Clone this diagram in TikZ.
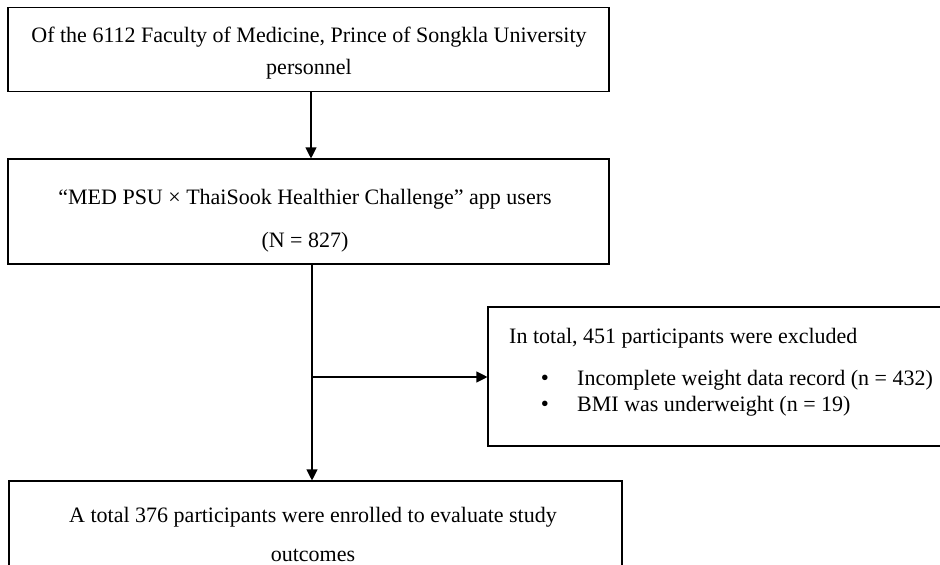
\documentclass[tikz,border=0pt]{standalone}
\usepackage{fontspec}
\setmainfont{Liberation Serif}
\usetikzlibrary{arrows.meta}
\begin{document}
\begin{tikzpicture}[x=1pt,y=-1pt,
  box/.style={draw, line width=1.1pt, rectangle, inner sep=0pt},
  txt/.style={font=\fontsize{22}{26}\selectfont, inner sep=0pt, anchor=base},
  ltxt/.style={font=\fontsize{22}{26}\selectfont, inner sep=0pt, anchor=base west},
  bul/.style={font=\fontsize{23}{26}\selectfont, inner sep=0pt, anchor=base},
  arr/.style={line width=1.1pt, -{Triangle[length=11pt,width=11pt]}}]
\useasboundingbox (0,0) rectangle (940,565);
\clip (0,0) rectangle (940,565);
% boxes
\node[box, minimum width=601pt, minimum height=84pt] (b1) at (308.5,49.5) {};
\node[box, minimum width=601pt, minimum height=105pt] (b2) at (308.5,211.5) {};
\node[box, minimum width=462pt, minimum height=139pt] (b4) at (719,376.5) {};
\node[box, minimum width=613pt, minimum height=100pt] (b3) at (315.5,531) {};
% texts
\node[txt] (t1a) at (309,42) {Of the 6112 Faculty of Medicine, Prince of Songkla University};
\node[txt] (t1b) at (309,74) {personnel};
\node[txt] (t2a) at (305,204) {“MED PSU × ThaiSook Healthier Challenge” app users};
\node[txt] (t2b) at (305,247) {(N = 827)};
\node[ltxt] (t4a) at (509,343) {In total, 451 participants were excluded};
\node[bul] (t4b) at (545,385) {\textbullet};
\node[ltxt] (t4c) at (577,385) {Incomplete weight data record (n = 432)};
\node[bul] (t4d) at (545,411) {\textbullet};
\node[ltxt] (t4e) at (577,411) {BMI was underweight (n = 19)};
\node[txt] (t3a) at (313,522) {A total 376 participants were enrolled to evaluate study};
\node[txt] (t3b) at (313,561) {outcomes};
% connectors
\coordinate (c1) at (311,0);
\coordinate (j) at (312,377);
\draw[arr] (b1.south -| c1) -- (b2.north -| c1);
\draw[line width=1.1pt] (b2.south -| j) -- (j);
\draw[arr] (j) -- (b3.north -| j);
\draw[arr] (j) -- (b4.west |- j);
\end{tikzpicture}
\end{document}
